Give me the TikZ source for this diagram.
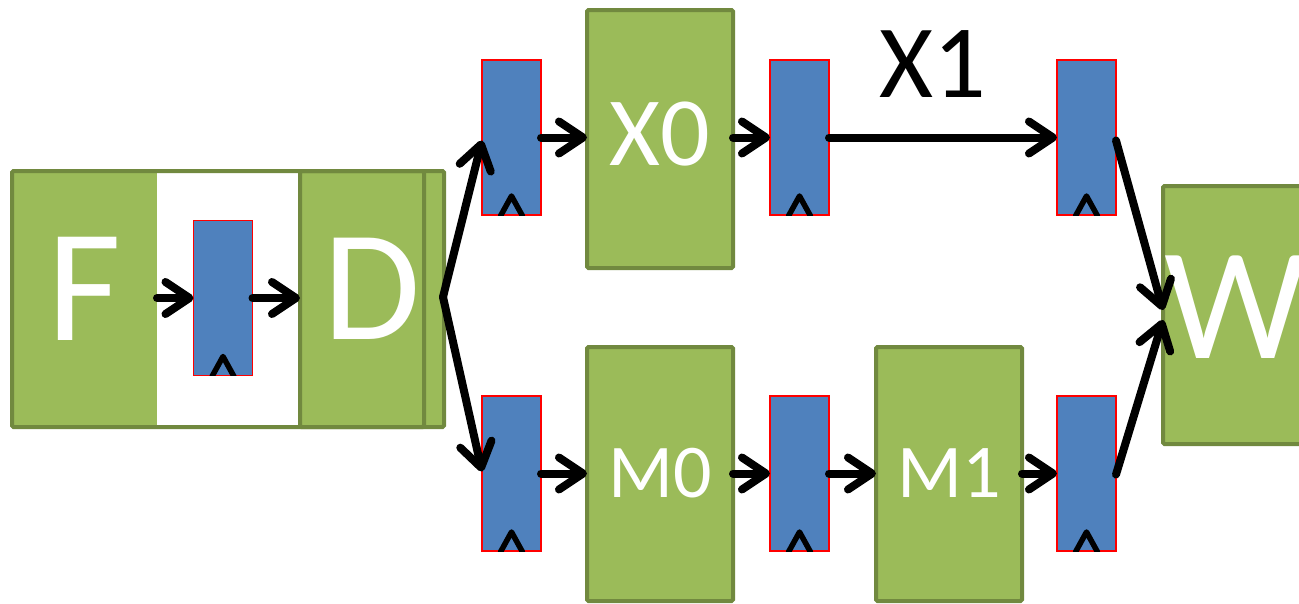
\documentclass[tikz,border=0pt]{standalone}
\usepackage{fontspec}
\setmainfont{Carlito}
\usetikzlibrary{arrows.meta}
\definecolor{gfill}{HTML}{9BBB59}
\definecolor{gline}{HTML}{71893F}
\definecolor{rfill}{HTML}{4F81BD}
\definecolor{rline}{HTML}{FF0000}
\tikzset{
  every node/.style={outer sep=0pt},
  stage/.style={rectangle, fill=gfill, draw=gline, line width=4pt, rounded corners=1.5pt, inner sep=0pt, anchor=north west},
  reg/.style={rectangle, fill=rfill, draw=rline, line width=1.3pt, inner sep=0pt, minimum width=59pt, minimum height=155pt},
  txt/.style={text=white, inner sep=0pt, text depth=0pt},
  arr/.style={line width=8pt, line cap=round, -{Straight Barb[length=24pt,width=32pt,round]}},
  caret/.style={line width=5.5pt, line cap=round, line join=round}
}
\begin{document}
\begin{tikzpicture}[x=1pt,y=-1pt]
\useasboundingbox (0,0) rectangle (1299,603);
% F / D block
\node[stage, draw=none, minimum width=412pt, minimum height=256pt] (FDbg) at (12,171) {};
\fill[white] (157,173) rectangle (300,425);
\node[stage, draw=none, fill=none, minimum width=145pt, minimum height=256pt,
  label={[txt, font=\fontsize{161}{161}\selectfont, yshift=10pt]center:F}] (F) at (12,171) {};
\node[stage, minimum width=144pt, minimum height=256pt,
  label={[txt, font=\fontsize{158}{158}\selectfont, yshift=10pt]center:D}] (D) at (300,171) {};
\draw[gline, line width=4pt, rounded corners=1.5pt] (12,171) rectangle (424,427);
% registers
\node[reg] (r0) at (223,298) {};
\node[reg] (r1) at (511.5,137.5) {};
\node[reg] (r2) at (799.5,137.5) {};
\node[reg] (r3) at (1086.5,137.5) {};
\node[reg] (r4) at (511.5,473.5) {};
\node[reg] (r5) at (799.5,473.5) {};
\node[reg] (r6) at (1086.5,473.5) {};
\foreach \r in {r0,r1,r2,r3,r4,r5,r6}{
  \begin{scope}
  \clip ([xshift=-20pt]\r.south) rectangle ([xshift=20pt,yshift=30pt]\r.south);
  \draw[caret] ([xshift=-11pt,yshift=-1pt]\r.south) -- ([yshift=19pt]\r.south) -- ([xshift=11pt,yshift=-1pt]\r.south);
  \end{scope}
}
% stages
\node[stage, minimum width=146pt, minimum height=258pt,
  label={[txt, font=\fontsize{98}{98}\selectfont, yshift=5pt]center:X0}] (X0) at (587,10) {};
\node[stage, minimum width=146pt, minimum height=254pt,
  label={[txt, font=\fontsize{76}{76}\selectfont, yshift=1pt]center:M0}] (M0) at (587,347) {};
\node[stage, minimum width=146pt, minimum height=254pt,
  label={[txt, font=\fontsize{76}{76}\selectfont, yshift=1pt]center:M1}] (M1) at (876,347) {};
\node[stage, minimum width=160pt, minimum height=258pt,
  label={[txt, font=\fontsize{160}{160}\selectfont, yshift=8pt, xshift=-7pt]center:W}] (W) at (1163,186) {};
% connectors
\coordinate (Dout) at (443,297);
\draw[arr] (F.east |- r0.west) -- (r0.west);
\draw[arr] (r0.east) -- (r0.east -| D.west);
\draw[arr] (Dout) -- ([yshift=-3pt]r1.west);
\draw[arr] (Dout) -- ([yshift=2pt]r4.west);
\draw[arr] (r1.east) -- (r1.east -| X0.west);
\draw[arr] (r1.east -| X0.east) -- (r2.west);
\draw[arr] (r2.east) -- node[above=40pt, xshift=-10pt, inner sep=0pt, text depth=0pt, font=\fontsize{104}{104}\selectfont] (X1) {X1} (r3.west);
\draw[arr] (r4.east) -- (r4.east -| M0.west);
\draw[arr] (r4.east -| M0.east) -- (r5.west);
\draw[arr] (r5.east) -- (r5.east -| M1.west);
\draw[arr] (r5.east -| M1.east) -- (r6.west);
\draw[arr] ([yshift=-3pt]r3.east) -- ([yshift=5pt]W.west);
\draw[arr] ([yshift=-1pt]r6.east) -- ([yshift=-5pt]W.west);
\end{tikzpicture}
\end{document}
